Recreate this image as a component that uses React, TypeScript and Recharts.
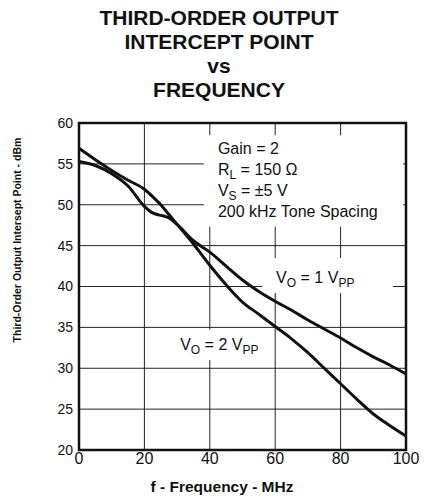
import { LineChart, Line, XAxis, YAxis, CartesianGrid, ReferenceArea } from 'recharts';

const freqs = [0, 5, 10, 15, 20, 22.5, 25, 27.5, 30, 35, 40, 45, 50, 55, 60, 65, 70, 75, 80, 85, 90, 95, 100];
const vo1 = [55.3, 54.8, 53.8, 52.3, 49.8, 49.0, 48.7, 48.4, 47.6, 45.6, 44.2, 42.5, 40.8, 39.4, 38.2, 37.1, 35.9, 34.8, 33.7, 32.5, 31.4, 30.4, 29.3];
const vo2 = [56.9, 55.5, 54.2, 53.0, 51.9, 51.0, 50.0, 48.8, 47.6, 45.2, 42.6, 40.2, 38.1, 36.6, 35.1, 33.6, 31.9, 30.0, 28.1, 26.2, 24.4, 23.0, 21.7];
const xTicks = [0, 20, 40, 60, 80, 100];
const yTicks = [20, 25, 30, 35, 40, 45, 50, 55, 60];
const titleLines = ['THIRD-ORDER OUTPUT', 'INTERCEPT POINT', 'vs', 'FREQUENCY'];

const data = freqs.map((f, i) => ({ f, vo1: vo1[i], vo2: vo2[i] }));

const FONT = '"Liberation Sans", Arial, Helvetica, sans-serif';

// text block for the conditions box
function ConditionsLabel(props: any) {
  const { x, y } = props.viewBox;
  const tx = x + 14;
  return (
    <text x={tx} y={y + 19} fontFamily={FONT} fontSize={16} fill="#111">
      <tspan x={tx} y={y + 19}>Gain = 2</tspan>
      <tspan x={tx} y={y + 40}>R</tspan>
      <tspan dy={4} fontSize={12}>L</tspan>
      <tspan dy={-4}> = 150 Ω</tspan>
      <tspan x={tx} y={y + 61}>V</tspan>
      <tspan dy={4} fontSize={12}>S</tspan>
      <tspan dy={-4}> = ±5 V</tspan>
      <tspan x={tx} y={y + 82}>200 kHz Tone Spacing</tspan>
    </text>
  );
}

function voLabel(val: string, dx: number, dy: number) {
  return (props: any) => {
    const { x, y } = props.viewBox;
    return (
      <text x={x + dx} y={y + dy} fontFamily={FONT} fontSize={16} fill="#111">
        <tspan>V</tspan>
        <tspan dy={4} fontSize={12}>O</tspan>
        <tspan dy={-4}>{` = ${val} V`}</tspan>
        <tspan dy={4} fontSize={12}>PP</tspan>
      </text>
    );
  };
}

export default function App() {
  return (
    <div style={{ position: 'absolute', left: 0, top: 0, width: 425, height: 497, background: '#fff' }}>
      <LineChart
        width={425}
        height={497}
        data={data}
        margin={{ top: 123, right: 19, bottom: 0, left: 19 }}
      >
        <CartesianGrid stroke="#222" strokeWidth={1} />
        <XAxis
          dataKey="f"
          type="number"
          domain={[0, 100]}
          ticks={xTicks}
          height={47}
          axisLine={false}
          tickLine={false}
          tickSize={0}
          tickMargin={3}
          tick={{ fontFamily: FONT, fontSize: 16, fill: '#111' }}
        />
        <YAxis
          type="number"
          domain={[20, 60]}
          ticks={yTicks}
          width={60}
          axisLine={false}
          tickLine={false}
          tickSize={0}
          tickMargin={6}
          tick={{ fontFamily: FONT, fontSize: 14, fill: '#111' }}
        />
        <ReferenceArea x1={38.2} x2={99.1} y1={47.3} y2={58.5} fill="#fff" fillOpacity={1} stroke="none" label={ConditionsLabel} />
        <ReferenceArea x1={56.0} x2={96.0} y1={39.2} y2={43.5} fill="#fff" fillOpacity={1} stroke="none" label={voLabel('1', 14, 25)} />
        <ReferenceArea x1={29.4} x2={56.9} y1={31.0} y2={34.7} fill="#fff" fillOpacity={1} stroke="none" label={voLabel('2', 5, 20)} />
        <Line dataKey="vo1" type="monotone" stroke="#111" strokeWidth={3} dot={false} isAnimationActive={false} />
        <Line dataKey="vo2" type="monotone" stroke="#111" strokeWidth={3} dot={false} isAnimationActive={false} />
        <ReferenceArea x1={0} x2={100} y1={20} y2={60} fill="none" stroke="#111" strokeWidth={2.5} />
      </LineChart>
      <svg width={425} height={497} style={{ position: 'absolute', left: 0, top: 0, pointerEvents: 'none' }}>
        {titleLines.map((t, i) => (
          <text key={t} x={219} y={[25, 48.5, 73, 96.5][i]} textAnchor="middle" fontFamily={FONT} fontWeight="bold" fontSize={21} fill="#111">
            {t}
          </text>
        ))}
        <text x={222} y={492} textAnchor="middle" fontFamily={FONT} fontWeight="bold" fontSize={15.5} fill="#111">
          f - Frequency - MHz
        </text>
        <text
          x={0}
          y={0}
          transform="translate(21 240) rotate(-90)"
          textAnchor="middle"
          fontFamily={FONT}
          fontWeight="bold"
          fontSize={10.5}
          fill="#111"
        >
          Third-Order Output Intersept Point - dBm
        </text>
      </svg>
    </div>
  );
}
